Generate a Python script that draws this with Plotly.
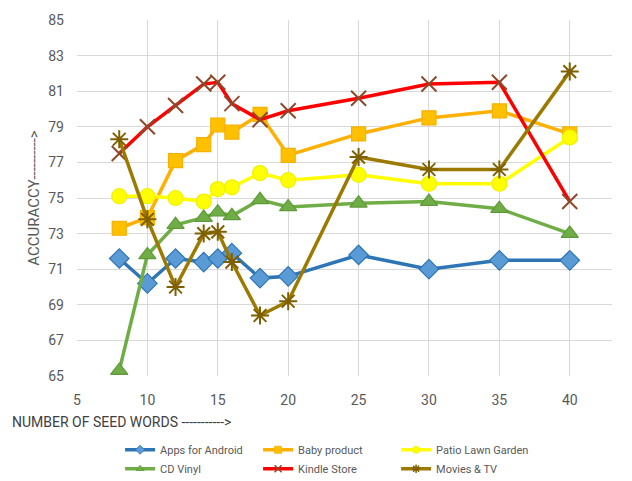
import plotly.graph_objects as go

# Number of seed words (x) and accuracy per dataset
seed_words = [8, 10, 12, 14, 15, 16, 18, 20, 25, 30, 35, 40]

apps_for_android = [71.6, 70.2, 71.6, 71.4, 71.6, 71.9, 70.5, 70.6, 71.8, 71.0, 71.5, 71.5]
baby_product = [73.3, 73.9, 77.1, 78.0, 79.1, 78.7, 79.7, 77.4, 78.6, 79.5, 79.9, 78.6]
patio_lawn_garden = [75.1, 75.1, 75.0, 74.8, 75.5, 75.6, 76.4, 76.0, 76.3, 75.8, 75.8, 78.4]
cd_vinyl = [65.3, 71.8, 73.5, 73.9, 74.2, 74.0, 74.9, 74.5, 74.7, 74.8, 74.4, 73.0]
kindle_store = [77.5, 79.0, 80.2, 81.4, 81.5, 80.3, 79.4, 79.9, 80.6, 81.4, 81.5, 74.8]
movies_tv = [78.3, 73.8, 70.0, 73.0, 73.1, 71.4, 68.4, 69.2, 77.3, 76.6, 76.6, 82.1]

y_ticks = [65, 67, 69, 71, 73, 75, 77, 79, 81, 83, 85]
x_ticks = [5, 10, 15, 20, 25, 30, 35, 40]

# name, values, line colour, marker symbol, marker fill, marker outline
series = [
    ("Apps for Android", apps_for_android, "#2E75B6", "diamond", "#5B9BD5", "#2E75B6"),
    ("Baby product", baby_product, "#FFB000", "square", "#FFC000", "#F5B000"),
    ("Patio Lawn Garden", patio_lawn_garden, "#FFFF00", "circle", "#FFFF00", "#F0F000"),
    ("CD Vinyl", cd_vinyl, "#70AD47", "triangle-up", "#70AD47", "#5E9A38"),
    ("Kindle Store", kindle_store, "#FF0000", "x-thin-open", "#8B4A2B", "#8B4A2B"),
    ("Movies & TV", movies_tv, "#9C7A00", "asterisk-open", "#7F6000", "#7F6000"),
]

fig = go.Figure()
for name, values, line_color, symbol, fill, outline in series:
    open_marker = symbol.endswith("-open")
    fig.add_trace(go.Scatter(
        x=seed_words, y=values, name=name, mode="lines+markers",
        line=dict(color=line_color, width=3.5),
        marker=dict(symbol=symbol, size=15 if symbol != "square" else 14,
                    color=fill, line=dict(color=outline, width=2 if open_marker else 1.2)),
        showlegend=False, legendgroup=name,
    ))

# Legend entries with small markers, as in a spreadsheet-style key
for name, values, line_color, symbol, fill, outline in series:
    open_marker = symbol.endswith("-open")
    fig.add_trace(go.Scatter(
        x=[None], y=[None], name=name, mode="lines+markers",
        line=dict(color=line_color, width=3.5),
        marker=dict(symbol=symbol, size=7, color=fill,
                    line=dict(color=outline, width=1.5 if open_marker else 0.8)),
        showlegend=True, legendgroup=name,
    ))

base_font = "Liberation Sans Narrow, Arial Narrow, Roboto, sans-serif"
tick_font = dict(family=base_font, size=14, color="#595959")

fig.update_layout(
    width=632, height=481,
    margin=dict(l=77, r=20, t=17, b=105),
    paper_bgcolor="white", plot_bgcolor="white",
    showlegend=True,
    legend=dict(
        orientation="h", xref="container", yref="container",
        x=0.19, y=0.095, xanchor="left", yanchor="top",
        entrywidth=93, entrywidthmode="pixels",
        font=dict(family=base_font, size=11, color="#595959"),
        tracegroupgap=0,
    ),
    xaxis=dict(
        range=[5, 43], tickvals=x_ticks, showgrid=True, gridcolor="#D9D9D9", gridwidth=1,
        zeroline=False, showline=False, tickfont=tick_font, ticklabelstandoff=14,
    ),
    yaxis=dict(
        range=[65, 85], tickvals=y_ticks, showgrid=True, gridcolor="#D9D9D9", gridwidth=1,
        zeroline=False, showline=False, tickfont=tick_font, ticklabelstandoff=12,
        title=dict(text="ACCURACCY---------->", standoff=5,
                   font=dict(family=base_font, size=15, color="#595959")),
    ),
    annotations=[dict(
        text="NUMBER OF SEED WORDS ----------->", xref="paper", yref="paper",
        x=-0.125, y=-0.13, xanchor="left", yanchor="middle", showarrow=False,
        font=dict(family=base_font, size=14, color="#404040"),
    )],
)

fig.write_html("out.html")
